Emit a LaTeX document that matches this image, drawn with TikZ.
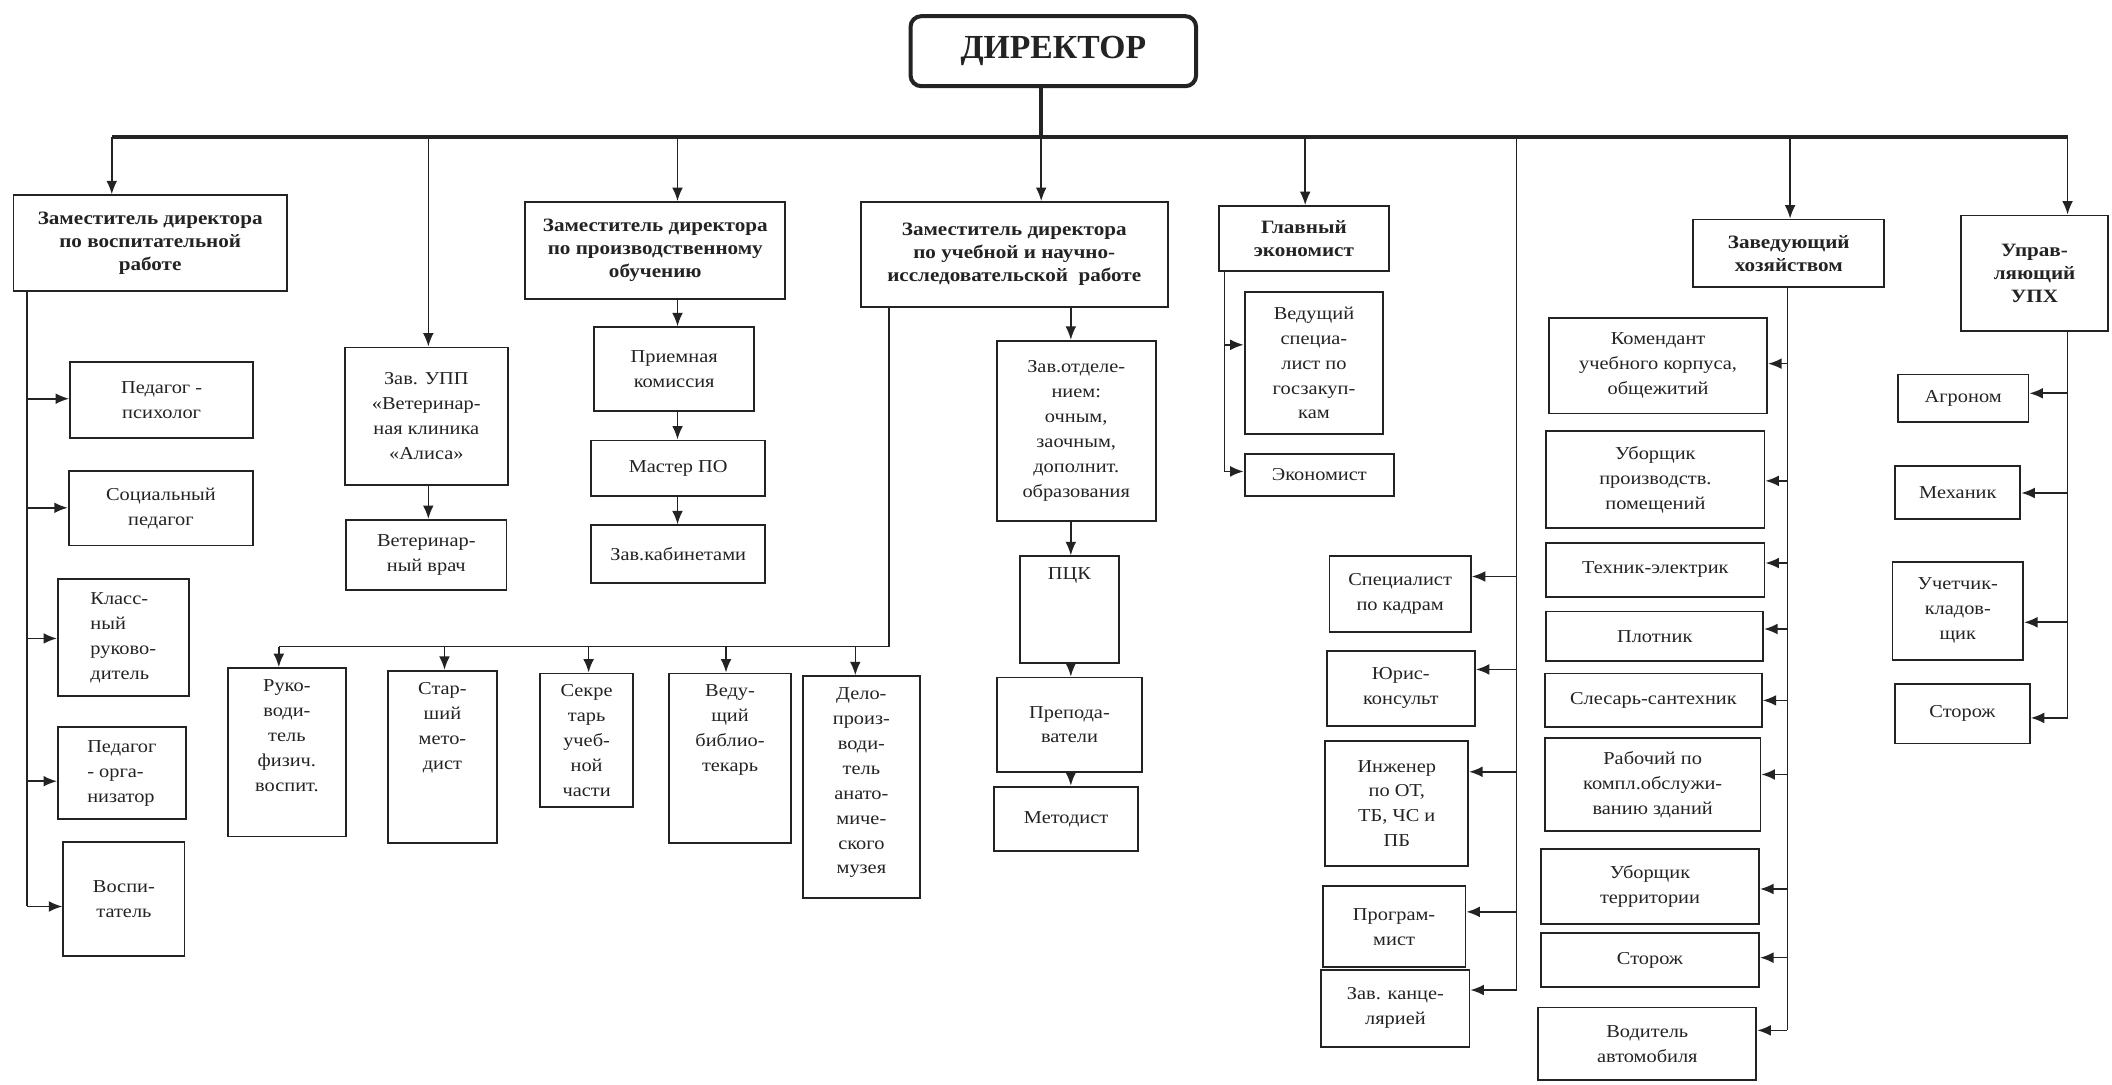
\documentclass[tikz,border=0pt]{standalone}
\usepackage{fontspec}
\setmainfont{Liberation Serif}[FakeStretch=1.12]
\newfontfamily\dirfont{Liberation Serif}
\usetikzlibrary{fit,arrows.meta}
\definecolor{ink}{RGB}{35,35,35}
\tikzset{
 boxst/.style={draw=ink, line width=1.4pt, inner sep=0pt},
 txt/.style={inner sep=0pt, align=center, text=ink, font=\fontsize{13.5}{18.5}\selectfont},
 btxt/.style={font=\bfseries\fontsize{14}{17}\selectfont},
 ln/.style={draw=ink, line width=1.2pt},
 arr/.style={ln, -{Latex[length=10pt,width=8pt]}},
 busline/.style={draw=ink, line width=2.8pt},
}
\newcommand{\bx}[7][]{%
 \node[boxst, fit={(#3,#4) (#5,#6)}] (#2) {};
 \node[txt, #1] (#2t) at (#2.center) {#7};}
\newcommand{\bxt}[7][]{%
 \node[boxst, fit={(#3,#4) (#5,#6)}] (#2) {};
 \node[txt, anchor=north, #1] (#2t) at ([yshift=-9pt]#2.north) {#7};}
\begin{document}
\begin{tikzpicture}[x=1pt,y=-1pt]
\fill[white] (0,0) rectangle (1568,805);
\useasboundingbox (0,0) rectangle (1568,805);

% Director
\node[draw=ink, line width=3pt, rounded corners=8pt, inner sep=0pt, fit={(676,12) (888,64)}] (dir) {};
\node[inner sep=0pt, text=ink, font=\dirfont\bfseries\fontsize{25}{27}\selectfont] (dirt) at (dir.center) {ДИРЕКТОР};

% Bus coordinates
\coordinate (b1) at (83,102);
\coordinate (b2) at (318,102);
\coordinate (b3) at (503,102);
\coordinate (b4) at (773,102);
\coordinate (b5) at (969,102);
\coordinate (b6) at (1126,102);
\coordinate (b7) at (1329,102);
\coordinate (b8) at (1535,102);

% Top-level boxes
\bx[btxt]{zv}{10}{145}{213}{216}{Заместитель директора\\по воспитательной\\работе}
\bx{zupp}{256}{258}{377}{360}{Зав. УПП\\«Ветеринар-\\ная клиника\\«Алиса»}
\bx[btxt]{zp}{390}{150}{583}{222}{Заместитель директора\\по производственному\\обучению}
\bx[btxt]{zu}{639}{150}{867}{228}{Заместитель директора\\по учебной и научно-\\исследовательской~~работе}
\bx[btxt]{gl}{905}{153}{1031}{201}{Главный\\экономист}
\bx[btxt]{hoz}{1257}{163}{1399}{213}{Заведующий\\хозяйством}
\bx[btxt]{uph}{1456}{160}{1565}{246}{Управ-\\ляющий\\УПХ}

% Bus and drops
\draw[busline] (dir.south -| b4) -- (b4);
\draw[busline] (b1) -- (b8);
\draw[arr] (b1) -- (b1 |- zv.north);
\draw[arr] (b2) -- (b2 |- zupp.north);
\draw[arr] (b3) -- (b3 |- zp.north);
\draw[arr] (b4) -- (b4 |- zu.north);
\draw[arr] (b5) -- (b5 |- gl.north);
\draw[arr] (b7) -- (b7 |- hoz.north);
\draw[arr] (b8) -- (b8 |- uph.north);

% Left column (upbringing)
\bx{psy}{52}{269}{188}{325}{Педагог -\\психолог}
\bx{soc}{51}{350}{188}{405}{Социальный\\педагог}
\bx[align=left]{kl}{43}{430}{140}{517}{Класс-\\ный\\руково-\\дитель}
\bx[align=left]{org}{43}{540}{138}{608}{Педагог\\- орга-\\низатор}
\bx{vosp}{47}{625}{137}{710}{Воспи-\\татель}
\coordinate (v1) at (20,296);
\coordinate (v2) at (20,377);
\coordinate (v3) at (20,474);
\coordinate (v4) at (20,580);
\coordinate (v5) at (20,673);
\draw[ln] (zv.south -| v5) -- (v5);
\draw[arr] (v1) -- (v1 -| psy.west);
\draw[arr] (v2) -- (v2 -| soc.west);
\draw[arr] (v3) -- (v3 -| kl.west);
\draw[arr] (v4) -- (v4 -| org.west);
\draw[arr] (v5) -- (v5 -| vosp.west);

% Vet clinic
\bx{vrach}{257}{386}{376}{438}{Ветеринар-\\ный врач}
\draw[arr] (zupp.south -| b2) -- (vrach.north -| b2);

% Production training
\bx{prk}{441}{243}{560}{305}{Приемная\\комиссия}
\bx{master}{439}{327}{568}{368}{Мастер ПО}
\bx{kab}{439}{390}{568}{433}{Зав.кабинетами}
\draw[arr] (zp.south -| b3) -- (prk.north -| b3);
\draw[arr] (prk.south -| b3) -- (master.north -| b3);
\draw[arr] (master.south -| b3) -- (kab.north -| b3);

% Academic work
\coordinate (zx) at (795,240);
\bx{zo}{740}{253}{858}{387}{Зав.отделе-\\нием:\\очным,\\заочным,\\дополнит.\\образования}
\bxt{pck}{757}{413}{831}{492}{ПЦК}
\bx{prep}{740}{503}{848}{573}{Препода-\\ватели}
\bx{met}{738}{584}{845}{632}{Методист}
\draw[arr] (zu.south -| zx) -- (zo.north -| zx);
\draw[arr] (zo.south -| zx) -- (pck.north -| zx);
\draw[arr] (pck.south -| zx) -- (prep.north -| zx);
\draw[arr] (prep.south -| zx) -- (met.north -| zx);

\bxt{fiz}{169}{496}{257}{621}{Руко-\\води-\\тель\\физич.\\воспит.}
\bxt{stm}{288}{498}{369}{626}{Стар-\\ший\\мето-\\дист}
\bxt{sekr}{401}{500}{470}{599}{Секре\\тарь\\учеб-\\ной\\части}
\bxt{bibl}{497}{500}{587}{626}{Веду-\\щий\\библио-\\текарь}
\bxt{delo}{596}{502}{683}{667}{Дело-\\произ-\\води-\\тель\\анато-\\миче-\\ского\\музея}
\coordinate (h1) at (660,480);
\coordinate (d1) at (207,480);
\coordinate (d2) at (330,480);
\coordinate (d3) at (437,480);
\coordinate (d4) at (539,480);
\coordinate (d5) at (635,480);
\draw[ln] (zu.south -| h1) -- (h1) -- (d1);
\draw[arr] (d1) -- (d1 |- fiz.north);
\draw[arr] (d2) -- (d2 |- stm.north);
\draw[arr] (d3) -- (d3 |- sekr.north);
\draw[arr] (d4) -- (d4 |- bibl.north);
\draw[arr] (d5) -- (d5 |- delo.north);

% Chief economist
\bx{gz}{924}{217}{1027}{322}{Ведущий\\специа-\\лист по\\госзакуп-\\кам}
\bx{ek}{924}{337}{1035}{368}{Экономист}
\coordinate (g1) at (909,256);
\coordinate (g2) at (909,350);
\draw[ln] (gl.south -| g2) -- (g2);
\draw[arr] (g1) -- (g1 -| gz.west);
\draw[arr] (g2) -- (g2 -| ek.west);

% Director's staff column
\bx{kadr}{987}{413}{1092}{469}{Специалист\\по кадрам}
\bx{jur}{985}{483}{1095}{539}{Юрис-\\консульт}
\bx{inzh}{984}{550}{1090}{643}{Инженер\\по ОТ,\\ТБ, ЧС и\\ПБ}
\bx{prog}{982}{658}{1088}{718}{Програм-\\мист}
\bx{kanc}{981}{720}{1091}{777}{Зав. канце-\\лярией}
\coordinate (k1) at (1126,428);
\coordinate (k2) at (1126,497);
\coordinate (k3) at (1126,573);
\coordinate (k4) at (1126,677);
\coordinate (k5) at (1126,735);
\draw[ln] (b6) -- (k5);
\draw[arr] (k1) -- (k1 -| kadr.east);
\draw[arr] (k2) -- (k2 -| jur.east);
\draw[arr] (k3) -- (k3 -| inzh.east);
\draw[arr] (k4) -- (k4 -| prog.east);
\draw[arr] (k5) -- (k5 -| kanc.east);

% Household
\bx{kom}{1150}{236}{1312}{307}{Комендант\\учебного корпуса,\\общежитий}
\bx{ubp}{1148}{320}{1310}{392}{Уборщик\\производств.\\помещений}
\bx{tech}{1148}{403}{1310}{443}{Техник-электрик}
\bx{plot}{1148}{454}{1309}{491}{Плотник}
\bx{sles}{1147}{500}{1308}{540}{Слесарь-сантехник}
\bx{rab}{1147}{548}{1307}{617}{Рабочий по\\компл.обслужи-\\ванию зданий}
\bx{ubt}{1144}{630}{1306}{686}{Уборщик\\территории}
\bx{storA}{1144}{693}{1306}{733}{Сторож}
\bx{vod}{1142}{748}{1304}{802}{Водитель\\автомобиля}
\coordinate (z1) at (1327,270);
\coordinate (z2) at (1327,357);
\coordinate (z3) at (1327,418);
\coordinate (z4) at (1327,467);
\coordinate (z5) at (1327,520);
\coordinate (z6) at (1327,575);
\coordinate (z7) at (1327,660);
\coordinate (z8) at (1327,711);
\coordinate (z9) at (1327,765);
\draw[ln] (hoz.south -| z9) -- (z9);
\draw[arr] (z1) -- (z1 -| kom.east);
\draw[arr] (z2) -- (z2 -| ubp.east);
\draw[arr] (z3) -- (z3 -| tech.east);
\draw[arr] (z4) -- (z4 -| plot.east);
\draw[arr] (z5) -- (z5 -| sles.east);
\draw[arr] (z6) -- (z6 -| rab.east);
\draw[arr] (z7) -- (z7 -| ubt.east);
\draw[arr] (z8) -- (z8 -| storA.east);
\draw[arr] (z9) -- (z9 -| vod.east);

% Farm (UPKh)
\bx{agr}{1409}{278}{1506}{313}{Агроном}
\bx{mech}{1407}{346}{1500}{385}{Механик}
\bx{uch}{1405}{417}{1502}{490}{Учетчик-\\кладов-\\щик}
\bx{storB}{1407}{508}{1507}{552}{Сторож}
\coordinate (u1) at (1535,292);
\coordinate (u2) at (1535,366);
\coordinate (u3) at (1535,462);
\coordinate (u4) at (1535,533);
\draw[ln] (uph.south -| u4) -- (u4);
\draw[arr] (u1) -- (u1 -| agr.east);
\draw[arr] (u2) -- (u2 -| mech.east);
\draw[arr] (u3) -- (u3 -| uch.east);
\draw[arr] (u4) -- (u4 -| storB.east);
\end{tikzpicture}
\end{document}
